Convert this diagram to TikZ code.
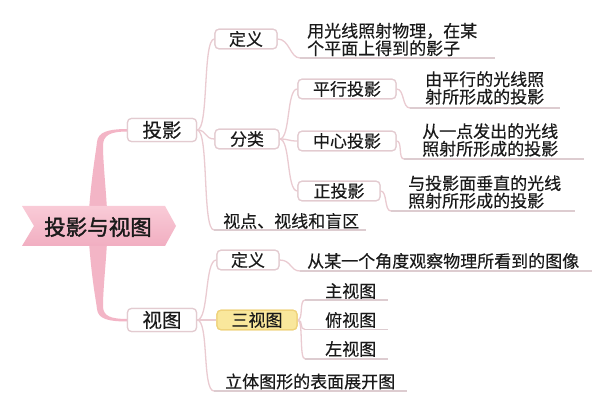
\documentclass[tikz,border=0pt]{standalone}
\usepackage{fontspec}
\setmainfont[FakeBold=0.35]{Noto Sans CJK SC}
\newfontfamily\rootfont[FakeBold=1.6]{Noto Sans CJK SC}
\definecolor{conn}{HTML}{EACBD1}
\definecolor{uline}{HTML}{DDCCD0}
\definecolor{boxc}{HTML}{E3CBD0}
\definecolor{pinkA}{HTML}{F9CBD7}
\definecolor{pinkB}{HTML}{F1AEC1}
\definecolor{pinkC}{HTML}{F3B5C6}
\definecolor{yel}{HTML}{F9E79C}
\definecolor{yelb}{HTML}{EFD27A}
\definecolor{txt}{HTML}{1A1A1A}
\begin{document}
\begin{tikzpicture}[x=1pt,y=-1pt,
  conn/.style={draw=conn,line width=1.3pt},
  ul/.style={draw=uline,line width=1.2pt},
  box/.style={draw=boxc,line width=1.2pt,rounded corners=4pt,fill=white,inner sep=0pt,text=txt},
  bigbox/.style={box,minimum width=69pt,minimum height=23pt,font=\fontsize{19.5}{20}\selectfont},
  smallbox/.style={box,minimum height=19.5pt,font=\fontsize{17}{17.5}\selectfont},
  desc/.style={anchor=west,align=left,inner sep=0pt,text=txt,font=\fontsize{17}{17.5}\selectfont},
]
\useasboundingbox (0,0) rectangle (611,411);
\fill[white] (0,0) rectangle (611,411);

% thick root branches
\fill[pinkC] (89,210) .. controls (92,172) and (96,152) .. (97,142) .. controls (98,132) and (108,129) .. (128,129)
  -- (128,131.5) .. controls (110,131.5) and (103,135) .. (103,146) .. controls (103,162) and (106,190) .. (107,210) -- cycle;
\fill[pinkC] (89,242) .. controls (92,282) and (96,300) .. (97,309) .. controls (98,319) and (108,321.5) .. (128,321.5)
  -- (128,319) .. controls (110,319) and (103,316) .. (103,306) .. controls (103,290) and (106,262) .. (107,242) -- cycle;

% root banner
\shade[top color=pinkA,bottom color=pinkB] (22,206) -- (165,206) -- (176,226) -- (165,246) -- (22,246) -- (34,226) -- cycle;
\node[text=txt,font=\rootfont\fontsize{21.5}{22}\selectfont] (root) at (98,227) {投影与视图};

% level 1
\node[bigbox] (ty) at (162,130) {投影};
\node[bigbox] (st) at (162,320) {视图};

% 投影 children
\node[smallbox,minimum width=62pt] (dy1) at (246,39) {定义};
\node[smallbox,minimum width=64pt] (fl) at (247,139) {分类};
\node[desc] (sd) at (223,221) {视点、视线和盲区};
\coordinate (sdL) at (214,230);
\coordinate (sdR) at (366,230);

\node[desc] (d1) at (307,39.5) {用光线照射物理，在某\\个平面上得到的影子};
\coordinate (d1L) at (300,58);
\coordinate (d1R) at (495,58);

% 分类 children
\node[smallbox,minimum width=98pt] (px) at (347,89) {平行投影};
\node[smallbox,minimum width=98pt] (zx) at (347,141) {中心投影};
\node[smallbox,minimum width=82pt] (zt) at (339,191) {正投影};

\node[desc] (dpx) at (425,88) {由平行的光线照\\射所形成的投影};
\coordinate (dpxL) at (410,108);
\coordinate (dpxR) at (560,108);
\node[desc] (dzx) at (422,140) {从一点发出的光线\\照射所形成的投影};
\coordinate (dzxL) at (404,159);
\coordinate (dzxR) at (584,159);
\node[desc] (dzt) at (408,192) {与投影面垂直的光线\\照射所形成的投影};
\coordinate (dztL) at (391,211);
\coordinate (dztR) at (575,211);

% 视图 children
\node[smallbox,minimum width=62pt] (dy2) at (248,260) {定义};
\node[smallbox,minimum width=80pt,draw=yelb,fill=yel] (sst) at (257,320) {三视图};
\node[desc] (lt) at (225,381.5) {立体图形的表面展开图};
\coordinate (ltL) at (214,391);
\coordinate (ltR) at (407,391);

\node[desc] (d2) at (307,261) {从某一个角度观察物理所看到的图像};
\coordinate (d2L) at (300,271);
\coordinate (d2R) at (592,271);

\node[desc] (zs) at (325,291) {主视图};
\coordinate (zsL) at (305,300);
\coordinate (zsR) at (388,300);
\node[desc] (fs) at (325,320) {俯视图};
\coordinate (fsL) at (305,329.5);
\coordinate (fsR) at (388,329.5);
\node[desc] (zsv) at (325,349) {左视图};
\coordinate (zsvL) at (305,359);
\coordinate (zsvR) at (388,359);

% connectors
\path[conn] (ty.east) .. controls +(12,0) and +(-12,0) .. (dy1.west);
\path[conn] (ty.east) .. controls +(10,0) and +(-10,0) .. (fl.west);
\path[conn] (ty.east) .. controls +(12,0) and +(-12,0) .. (sdL);
\path[ul] (sdL) -- (sdR);
\path[conn] (dy1.east) .. controls +(12,0) and +(-10,0) .. (d1L);
\path[ul] (d1L) -- (d1R);
\path[conn] (fl.east) .. controls +(11,0) and +(-11,0) .. (px.west);
\path[conn] (fl.east) .. controls +(10,0) and +(-10,0) .. (zx.west);
\path[conn] (fl.east) .. controls +(11,0) and +(-11,0) .. (zt.west);
\path[conn] (px.east) .. controls +(8,0) and +(-8,0) .. (dpxL);
\path[ul] (dpxL) -- (dpxR);
\path[conn] (zx.east) .. controls +(6,0) and +(-6,0) .. (dzxL);
\path[ul] (dzxL) -- (dzxR);
\path[conn] (zt.east) .. controls +(7,0) and +(-7,0) .. (dztL);
\path[ul] (dztL) -- (dztR);

\path[conn] (st.east) .. controls +(12,0) and +(-12,0) .. (dy2.west);
\path[conn] (st.east) -- (sst.west);
\path[conn] (st.east) .. controls +(12,0) and +(-12,0) .. (ltL);
\path[ul] (ltL) -- (ltR);
\path[conn] (dy2.east) .. controls +(12,0) and +(-10,0) .. (d2L);
\path[ul] (d2L) -- (d2R);
\path[conn] (sst.east) .. controls +(6,0) and +(-6,0) .. (zsL);
\path[ul] (zsL) -- (zsR);
\path[conn] (sst.east) .. controls +(6,0) and +(-6,0) .. (fsL);
\path[ul] (fsL) -- (fsR);
\path[conn] (sst.east) .. controls +(6,0) and +(-6,0) .. (zsvL);
\path[ul] (zsvL) -- (zsvR);

% redraw boxes on top of connectors
\node[bigbox] at (ty) {投影};
\node[bigbox] at (st) {视图};
\node[smallbox,minimum width=62pt] at (dy1) {定义};
\node[smallbox,minimum width=64pt] at (fl) {分类};
\node[smallbox,minimum width=98pt] at (px) {平行投影};
\node[smallbox,minimum width=98pt] at (zx) {中心投影};
\node[smallbox,minimum width=82pt] at (zt) {正投影};
\node[smallbox,minimum width=62pt] at (dy2) {定义};
\node[smallbox,minimum width=80pt,draw=yelb,fill=yel] at (sst) {三视图};
\end{tikzpicture}
\end{document}
